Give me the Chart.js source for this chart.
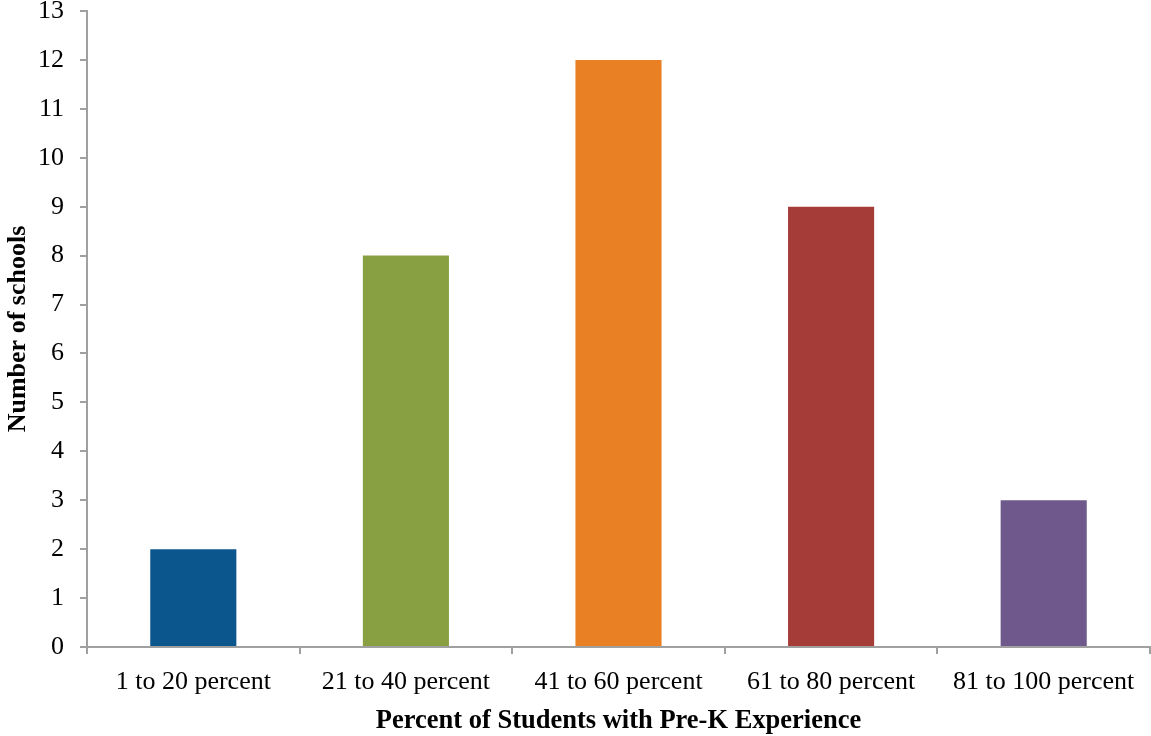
<!DOCTYPE html>
<html>
<head>
<meta charset="utf-8">
<script src="https://cdn.jsdelivr.net/npm/chart.js@4/dist/chart.umd.min.js"></script>
<style>
  html, body { margin: 0; padding: 0; background: #ffffff; }
  #wrap { width: 1151px; height: 736px; position: relative; }
</style>
</head>
<body>
<div id="wrap"><canvas id="chart"></canvas></div>
<script>
// Pre-K experience share per school, grouped in 20-point bands
const categories = ['1 to 20 percent', '21 to 40 percent', '41 to 60 percent', '61 to 80 percent', '81 to 100 percent'];
const schoolCounts = [2, 8, 12, 9, 3];
const barColors = ['#0b568c', '#88a042', '#e98024', '#a53c37', '#6e588c'];
const yTicks = [0, 1, 2, 3, 4, 5, 6, 7, 8, 9, 10, 11, 12, 13];

const axisGrey = '#a0a0a0';
const serif = "'Liberation Serif', 'Times New Roman', serif";

new Chart(document.getElementById('chart'), {
  type: 'bar',
  data: {
    labels: categories,
    datasets: [{
      data: schoolCounts,
      backgroundColor: barColors,
      borderWidth: 0,
      barPercentage: 0.405,
      categoryPercentage: 1.0
    }]
  },
  options: {
    responsive: true,
    maintainAspectRatio: false,
    animation: false,
    events: [],
    layout: { padding: { top: 11, right: 1, left: 0, bottom: 0 } },
    plugins: {
      legend: { display: false },
      tooltip: { enabled: false }
    },
    scales: {
      x: {
        afterFit: (s) => {
          s.height = 89;
          s.paddingLeft = 0;
          s.paddingRight = 0;
        },
        grid: {
          offset: true,
          drawOnChartArea: false,
          drawTicks: true,
          tickLength: 7,
          color: axisGrey,
          lineWidth: 2
        },
        border: { display: true, color: axisGrey, width: 2 },
        ticks: {
          color: '#000000',
          font: { family: serif, size: 26 },
          padding: 13,
          maxRotation: 0,
          autoSkip: false
        },
        title: {
          display: true,
          text: 'Percent of Students with Pre-K Experience',
          color: '#000000',
          font: { family: serif, size: 26.5, weight: 'bold', lineHeight: 1 },
          padding: { top: 0, bottom: 2 }
        }
      },
      y: {
        min: 0,
        max: 13,
        afterFit: (s) => {
          s.width = 87;
          s.paddingTop = 0;
          s.paddingBottom = 0;
        },
        afterBuildTicks: (s) => { s.ticks = yTicks.map(v => ({ value: v })); },
        grid: {
          drawOnChartArea: false,
          drawTicks: true,
          tickLength: 7,
          color: axisGrey,
          lineWidth: 2
        },
        border: { display: true, color: axisGrey, width: 2 },
        ticks: {
          color: '#000000',
          font: { family: serif, size: 26 },
          padding: 16
        },
        title: {
          display: true,
          text: 'Number of schools',
          color: '#000000',
          font: { family: serif, size: 26, weight: 'bold' },
          padding: { top: 3, bottom: 0 }
        }
      }
    }
  }
});
</script>
</body>
</html>
